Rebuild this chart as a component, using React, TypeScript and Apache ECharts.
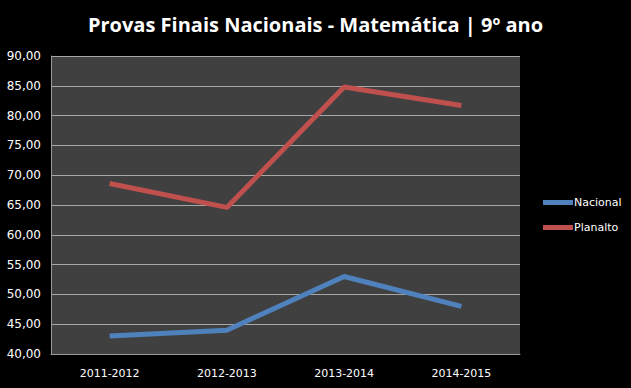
import React, { useEffect, useRef } from "react";
import * as echarts from "echarts";

const categories = ["2011-2012", "2012-2013", "2013-2014", "2014-2015"];
const nacional = [43.0, 44.0, 53.0, 48.0];
const planalto = [68.6, 64.6, 84.8, 81.7];
const yMin = 40;
const yMax = 90;
const yStep = 5;

export default function App() {
  const ref = useRef<HTMLDivElement>(null);
  useEffect(() => {
    if (!ref.current) return;
    const chart = echarts.init(ref.current, null, { renderer: "svg" });
    chart.setOption({
      animation: false,
      backgroundColor: "#000000",
      title: {
        text: "Provas Finais Nacionais - Matemática | 9º ano",
        left: "center",
        top: 9,
        textStyle: {
          color: "#ffffff",
          fontFamily: "Open Sans",
          fontWeight: "bold",
          fontSize: 20,
        },
      },
      legend: {
        orient: "vertical",
        left: 538,
        top: 192,
        itemWidth: 30,
        itemHeight: 5,
        itemGap: 14,
        icon: "rect",
        textStyle: { color: "#ffffff", fontFamily: "DejaVu Sans", fontSize: 11, padding: [0, 0, 0, -4] },
        data: ["Nacional", "Planalto"],
      },
      grid: {
        left: 51,
        right: 111,
        top: 56,
        bottom: 34,
        show: true,
        backgroundColor: "#404040",
        borderColor: "#808080",
        borderWidth: 0,
      },
      xAxis: {
        type: "category",
        data: categories,
        boundaryGap: true,
        axisLine: { lineStyle: { color: "#9a9a9a" } },
        axisTick: { show: false },
        axisLabel: { color: "#ffffff", fontFamily: "DejaVu Sans", fontSize: 11, margin: 14 },
      },
      yAxis: {
        type: "value",
        min: yMin,
        max: yMax,
        interval: yStep,
        axisLine: { show: true, lineStyle: { color: "#9a9a9a" } },
        axisTick: { show: false },
        splitLine: { lineStyle: { color: "#a6a6a6", width: 1 } },
        axisLabel: {
          color: "#ffffff",
          fontFamily: "DejaVu Sans",
          fontSize: 12,
          margin: 10,
          formatter: (v: number) => v.toFixed(2).replace(".", ","),
        },
      },
      series: [
        {
          name: "Nacional",
          type: "line",
          data: nacional,
          symbol: "none",
          color: "#4f81bd",
          lineStyle: { width: 5, color: "#4f81bd" },
        },
        {
          name: "Planalto",
          type: "line",
          data: planalto,
          symbol: "none",
          color: "#c0504d",
          lineStyle: { width: 5, color: "#c0504d" },
        },
      ],
    });
    return () => chart.dispose();
  }, []);
  return <div ref={ref} style={{ width: 631, height: 388, position: "absolute", left: 0, top: 0 }} />;
}
